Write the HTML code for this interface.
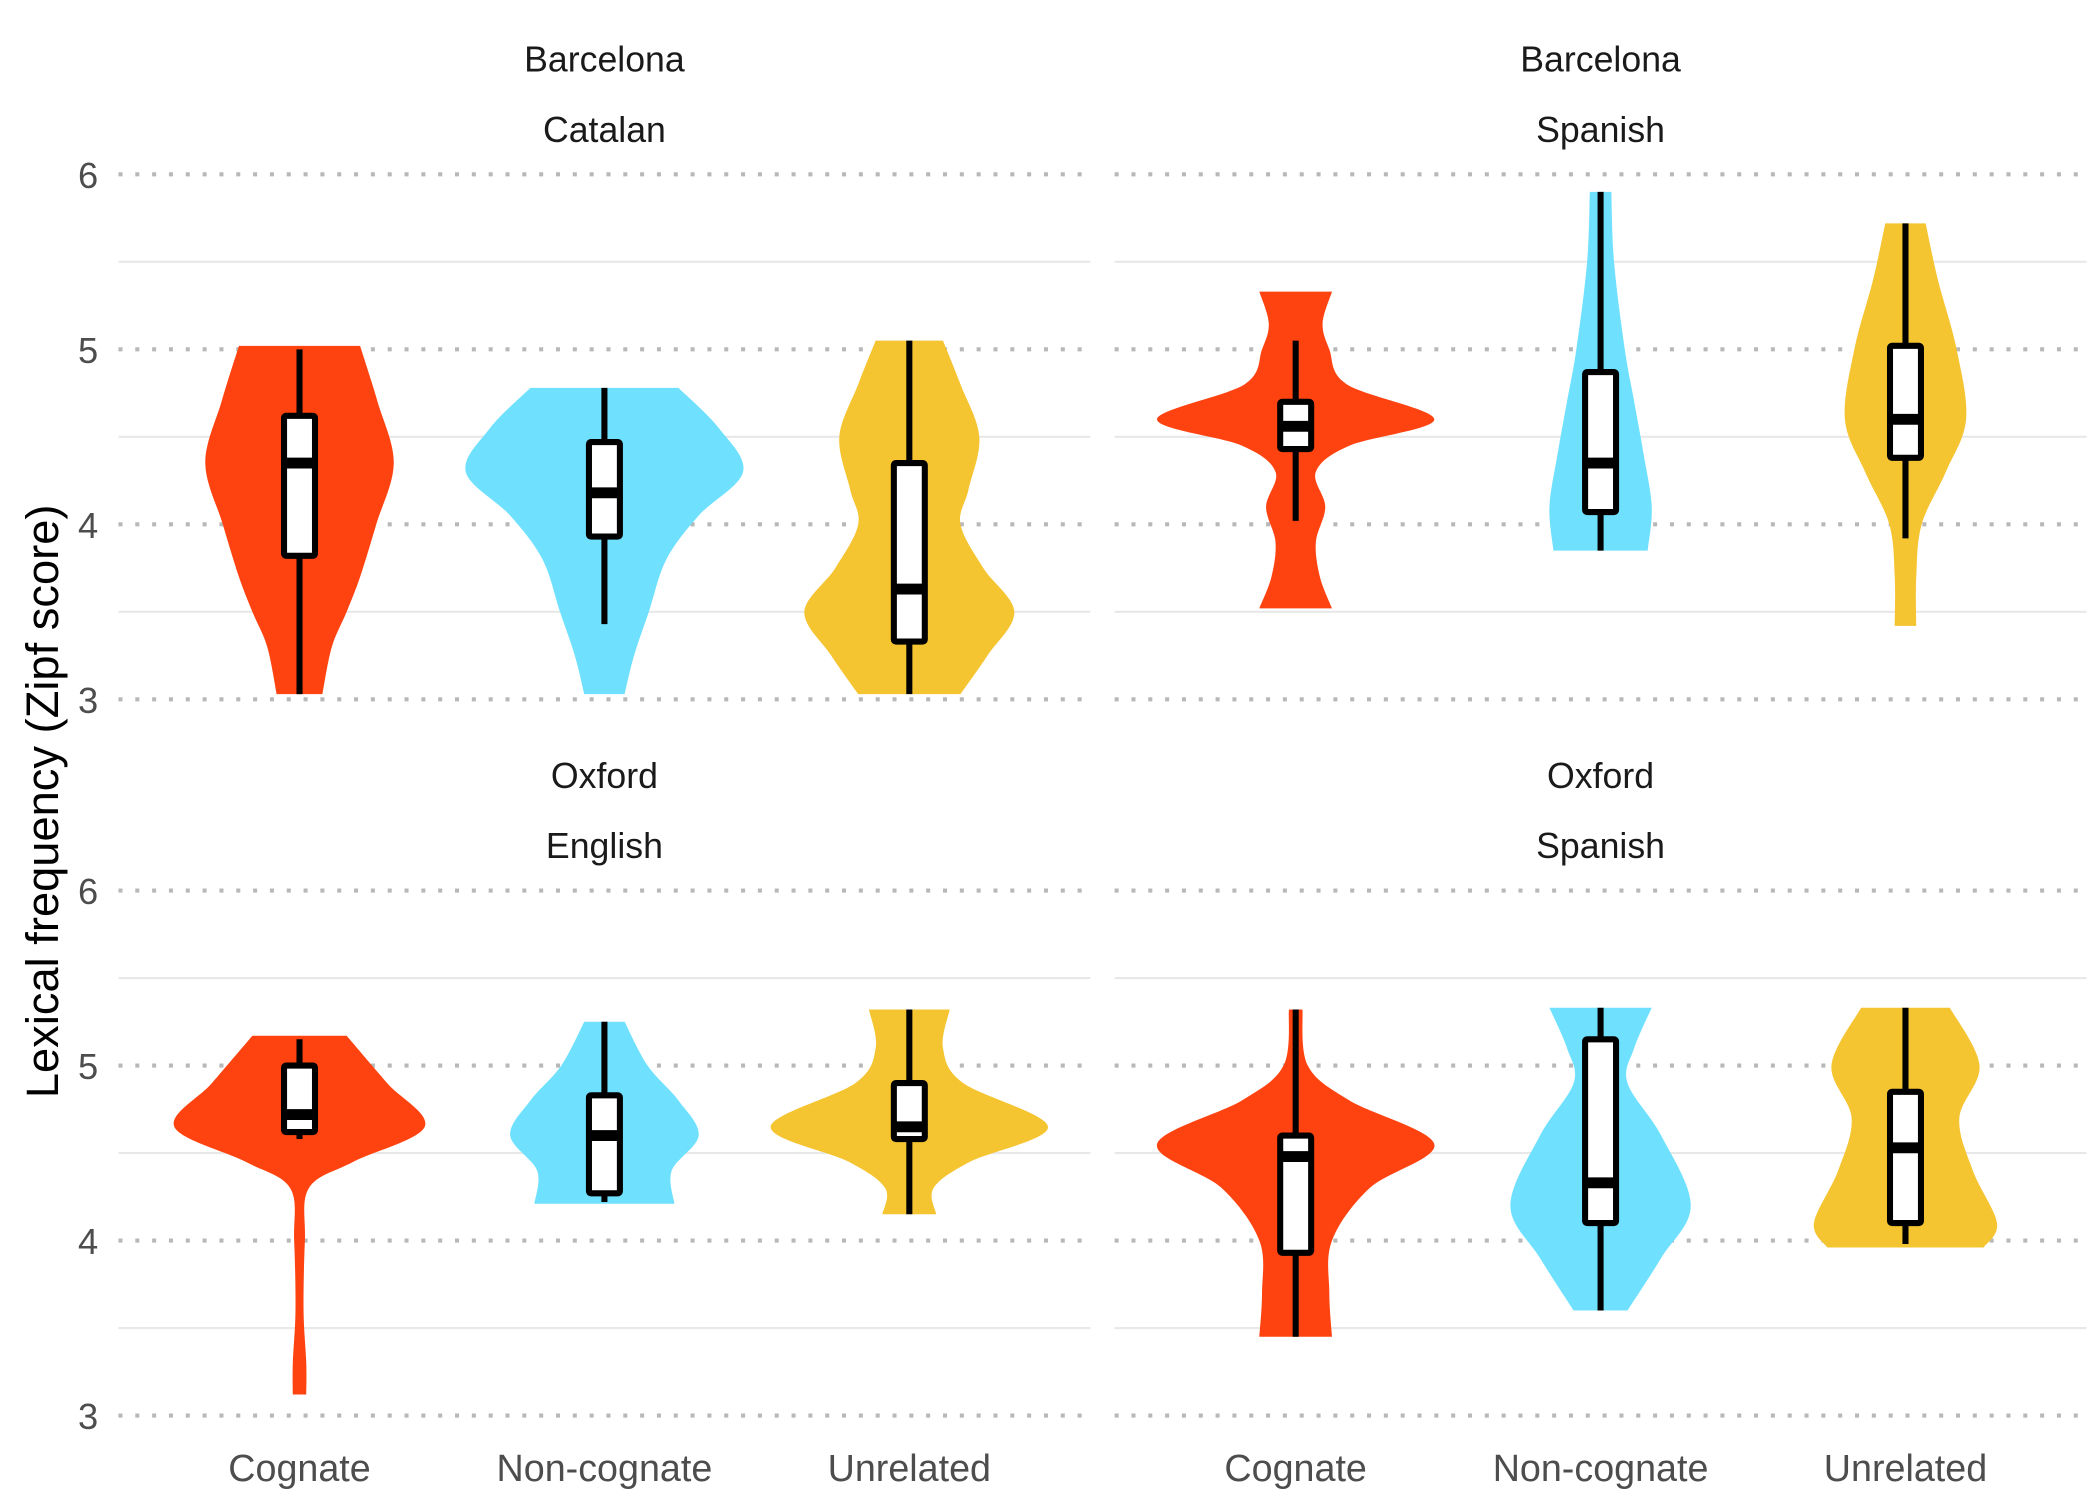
<!DOCTYPE html>
<html><head><meta charset="utf-8">
<style>
html,body{margin:0;padding:0;background:#fff;}
svg{display:block;}
text{font-family:"Liberation Sans",Arial,sans-serif;}
</style></head>
<body>
<svg id="chart" width="2100" height="1500" viewBox="0 0 1560 1110" preserveAspectRatio="none" xmlns="http://www.w3.org/2000/svg">
<g id="grid"></g>
<g id="marks"></g>
<g id="labels"></g>
<text x="0" y="0" transform="translate(43,593) rotate(-90)" text-anchor="middle" font-size="33.5" fill="#000">Lexical frequency (Zipf score)</text>
</svg>
<script>
const categories = ["Cognate", "Non-cognate", "Unrelated"];
const panelSite = ["Barcelona", "Barcelona", "Oxford", "Oxford"];
const panelLang = ["Catalan", "Spanish", "English", "Spanish"];
const yTicks = [3, 4, 5, 6];
const yMinor = [3.5, 4.5, 5.5];
// violin profiles: [value, relative half-width] from top to bottom, per panel then category
const violinProfiles = [
 [
  [[5.02,45],[4.7,58],[4.35,70],[4.0,57],[3.7,45],[3.5,35],[3.3,24],[3.03,17]],
  [[4.78,55],[4.55,85],[4.3,103],[4.05,70],[3.8,46],[3.5,33],[3.25,22],[3.03,15]],
  [[5.05,25],[4.8,38],[4.5,52],[4.2,44],[4.0,38],[3.75,55],[3.5,78],[3.25,58],[3.03,38]]
 ],
 [
  [[5.33,27],[5.15,20],[5.0,25],[4.8,38],[4.6,103],[4.45,40],[4.3,15],[4.1,22],[3.9,15],[3.7,18],[3.52,27]],
  [[5.9,8],[5.5,10],[5.0,18],[4.7,25],[4.4,32],[4.1,38],[3.85,35]],
  [[5.72,15],[5.4,24],[5.0,38],[4.6,45],[4.3,30],[4.0,12],[3.7,8],[3.42,8]]
 ],
 [
  [[5.17,35],[4.9,65],[4.65,93],[4.45,40],[4.3,7],[4.0,4],[3.6,3],[3.3,5],[3.12,5]],
  [[5.25,15],[5.0,32],[4.8,55],[4.6,70],[4.4,50],[4.21,52]],
  [[5.32,30],[5.1,25],[4.9,40],[4.65,103],[4.45,45],[4.3,18],[4.15,20]]
 ],
 [
  [[5.32,5],[5.0,9],[4.8,40],[4.55,103],[4.3,55],[4.0,27],[3.7,25],[3.45,27]],
  [[5.33,38],[5.1,25],[4.9,20],[4.6,45],[4.2,67],[3.9,45],[3.6,20]],
  [[5.33,33],[5.0,55],[4.7,40],[4.4,50],[4.1,68],[3.96,58]]
 ]
];
const boxQ1 = [[3.82,3.93,3.33],[4.43,4.07,4.38],[4.62,4.27,4.58],[3.93,4.1,4.1]];
const boxMed = [[4.35,4.18,3.63],[4.56,4.35,4.6],[4.72,4.6,4.65],[4.48,4.33,4.53]];
const boxQ3 = [[4.62,4.47,4.35],[4.7,4.87,5.02],[5.0,4.83,4.9],[4.6,5.15,4.85]];
const whiskLo = [[3.03,3.43,3.03],[4.02,3.85,3.92],[4.58,4.22,4.15],[3.45,3.6,3.98]];
const whiskHi = [[5.0,4.78,5.05],[5.05,5.9,5.72],[5.15,5.25,5.32],[5.32,5.33,5.33]];
const fills = ["#FF4310", "#6FE1FF", "#F5C431"];

const NS = "http://www.w3.org/2000/svg";
const panelX = [[88,810],[828,1550],[88,810],[828,1550]];
const panelY6 = [129,129,659,659];
const unit = 129.5;
function yScale(p, v){ return panelY6[p] + (6 - v) * unit; }
function xScale(p, i){ const c = (panelX[p][0] + panelX[p][1]) / 2; return c + (i - 1) * 226.5; }
function mk(tag, attrs, parent){ const e = document.createElementNS(NS, tag); for (const k in attrs) e.setAttribute(k, attrs[k]); parent.appendChild(e); return e; }

const grid = document.getElementById('grid');
const marks = document.getElementById('marks');
const labels = document.getElementById('labels');

for (let p = 0; p < 4; p++) {
  yMinor.forEach(v => {
    const l = mk('line', {x1: panelX[p][0], x2: panelX[p][1], y1: yScale(p, v), y2: yScale(p, v), stroke: '#e8e8e8', 'stroke-width': 1.6}, grid);
    
    
  });
  yTicks.forEach(v => {
    const l = mk('line', {x1: panelX[p][0], x2: panelX[p][1], y1: yScale(p, v), y2: yScale(p, v), stroke: '#b8b8b8', 'stroke-width': 3, 'stroke-dasharray': '3 9.5'}, grid);
    
    
  });
  const cx = (panelX[p][0] + panelX[p][1]) / 2;
  const s1 = mk('text', {x: cx, y: panelY6[p] - 76, 'text-anchor': 'middle', 'font-size': 26.5, fill: '#1a1a1a'}, labels);
  s1.textContent = panelSite[p];
  
  
  const s2 = mk('text', {x: cx, y: panelY6[p] - 24, 'text-anchor': 'middle', 'font-size': 26.5, fill: '#1a1a1a'}, labels);
  s2.textContent = panelLang[p];
  
  
  if (p % 2 === 0) {
    yTicks.forEach(v => {
      const t = mk('text', {x: 73, y: yScale(p, v) + 10, 'text-anchor': 'end', 'font-size': 27, fill: '#4d4d4d'}, labels);
      t.textContent = v;
      
      
    });
  }
  if (p >= 2) {
    categories.forEach((c, i) => {
      const t = mk('text', {x: xScale(p, i), y: 1096, 'text-anchor': 'middle', 'font-size': 28, fill: '#4d4d4d'}, labels);
      t.textContent = c;
      
      
    });
  }
  categories.forEach((c, i) => {
    const cx2 = xScale(p, i);
    const prof = violinProfiles[p][i];
    const pts = prof.map(d => [cx2 + d[1], yScale(p, d[0])]);
    let d = `M${cx2 - prof[0][1]},${pts[0][1]} L${pts[0][0]},${pts[0][1]}`;
    d += catmull(pts);
    const lpts = prof.map(q => [cx2 - q[1], yScale(p, q[0])]).reverse();
    d += ` L${lpts[0][0]},${lpts[0][1]}` + catmull(lpts) + ' Z';
    const v = mk('path', {d: d, fill: fills[i]}, marks);
    
    
    const w = mk('line', {x1: cx2, x2: cx2, y1: yScale(p, whiskHi[p][i]), y2: yScale(p, whiskLo[p][i]), stroke: '#000', 'stroke-width': 4.5}, marks);
    
    
    const yt = yScale(p, boxQ3[p][i]), yb = yScale(p, boxQ1[p][i]);
    const b = mk('rect', {x: cx2 - 11.5, y: yt, width: 23, height: yb - yt, fill: '#fff', stroke: '#000', 'stroke-width': 4.5, rx: 1.5}, marks);
    
    
    const m = mk('line', {x1: cx2 - 11.5, x2: cx2 + 11.5, y1: yScale(p, boxMed[p][i]), y2: yScale(p, boxMed[p][i]), stroke: '#000', 'stroke-width': 8}, marks);
    
    
  });
}
function catmull(pts){
  let s = '';
  for (let k = 0; k < pts.length - 1; k++) {
    const p0 = pts[Math.max(0, k - 1)], p1 = pts[k], p2 = pts[k + 1], p3 = pts[Math.min(pts.length - 1, k + 2)];
    const c1 = [p1[0] + (p2[0] - p0[0]) / 6, p1[1] + (p2[1] - p0[1]) / 6];
    const c2 = [p2[0] - (p3[0] - p1[0]) / 6, p2[1] - (p3[1] - p1[1]) / 6];
    s += ` C${c1[0]},${c1[1]} ${c2[0]},${c2[1]} ${p2[0]},${p2[1]}`;
  }
  return s;
}
</script>
</body></html>
